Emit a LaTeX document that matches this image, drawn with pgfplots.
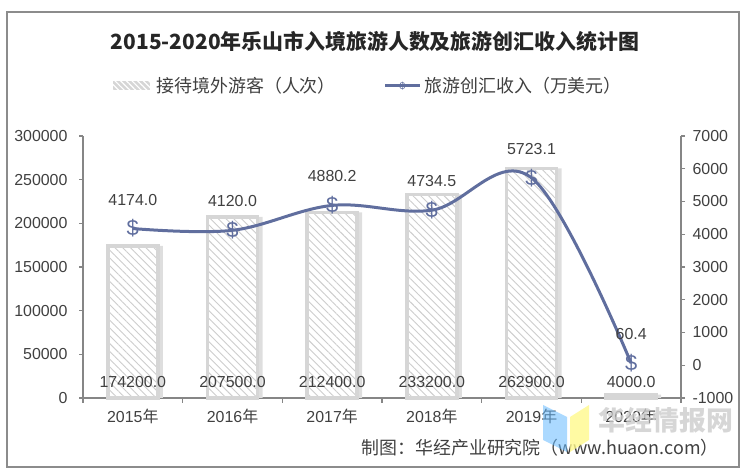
\documentclass[border=0pt]{standalone}
\usepackage{fontspec}
\setmainfont{Liberation Sans}
\newfontfamily\cjk{Noto Sans CJK SC}
\usepackage{pgfplots}
\pgfplotsset{compat=1.18}
\usetikzlibrary{patterns.meta}

\definecolor{linec}{RGB}{96,110,158}
\definecolor{axc}{RGB}{134,134,134}
\definecolor{txt}{RGB}{64,64,64}
\definecolor{barc}{RGB}{214,214,214}
\definecolor{hatch}{RGB}{205,205,205}

\newcommand\nian{{\cjk 年}}
\newcommand\numfont{\fontsize{16}{19}\selectfont}

\begin{document}
\begin{tikzpicture}[x=1bp,y=1bp]
\useasboundingbox (0,0) rectangle (750,475);
\draw[black!45, line width=1.5bp] (7,8) rectangle (739,463);

% bars: visitors (left axis)
\begin{axis}[
    at={(83bp,77bp)}, anchor=south west,
    width=598bp, height=262bp, scale only axis,
    xmin=-0.5, xmax=5.5, ymin=0, ymax=300000,
    axis y line*=left, axis x line*=bottom,
    axis line style={axc, line width=1.2bp, -},
    xtick={0,...,5},
    xticklabels={2015\nian, 2016\nian, 2017\nian, 2018\nian, 2019\nian, 2020\nian},
    minor xtick={-0.5,0.5,...,5.5},
    major x tick style={draw=none},
    minor tick length=5bp, major tick length=4bp,
    tick align=outside,
    tick style={axc, line width=1.2bp},
    ytick={0,50000,...,300000},
    scaled y ticks=false,
    /pgf/number format/fixed,
    /pgf/number format/1000 sep={},
    /pgf/number format/assume math mode=true,
    ticklabel style={font=\numfont, text=txt},
    yticklabel style={xshift=-8bp},
    xticklabel style={yshift=-4bp},
    clip=false,
]
\addplot[ybar, bar width=50bp, bar shift=5bp, fill=black!13, draw=none]
    coordinates {(0,174200) (1,207500) (2,212400) (3,233200) (4,262900) (5,4000)};
\addplot[ybar, bar width=50bp, bar shift=0bp, fill=white, draw=barc, line width=3.5bp,
    postaction={pattern color=hatch, pattern={Lines[angle=-45,distance=5.5bp,line width=0.9bp]}}]
    coordinates {(0,174200) (1,207500) (2,212400) (3,233200) (4,262900) (5,4000)};
% value labels sit near the base of each bar
\addplot[draw=none, nodes near coords={\pgfplotspointmeta}, point meta=explicit symbolic,
    every node near coord/.append style={anchor=center, font=\numfont, text=txt}]
    coordinates {(0,18300) [174200.0] (1,18300) [207500.0] (2,18300) [212400.0]
                 (3,18300) [233200.0] (4,18300) [262900.0] (5,18300) [4000.0]};
\end{axis}

% line: income (right axis)
\begin{axis}[
    at={(83bp,77bp)}, anchor=south west,
    width=598bp, height=262bp, scale only axis,
    xmin=-0.5, xmax=5.5, ymin=-1000, ymax=7000,
    axis y line*=right, axis x line=none,
    axis line style={axc, line width=1.2bp, -},
    ytick={-1000,0,...,7000},
    major tick length=4bp, tick align=outside,
    tick style={axc, line width=1.2bp},
    /pgf/number format/fixed,
    /pgf/number format/1000 sep={},
    /pgf/number format/assume math mode=true,
    ticklabel style={font=\numfont, text=txt},
    yticklabel style={xshift=4bp},
    clip=false,
]
\addplot[linec, line width=3bp, smooth, tension=0.6,
    mark=text, text mark={\$}, text mark as node=true,
    text mark style={font=\fontsize{22}{22}\selectfont, text=linec, inner sep=0pt, anchor=center},
    nodes near coords={\pgfplotspointmeta}, point meta=explicit symbolic,
    every node near coord/.append style={anchor=center, yshift=29bp, font=\numfont, text=txt}]
    coordinates {(0,4174.0) [4174.0] (1,4120.0) [4120.0] (2,4880.2) [4880.2]
                 (3,4734.5) [4734.5] (4,5723.1) [5723.1] (5,60.4) [60.4]};
\end{axis}

% title and legend
\node[font=\cjk\bfseries\fontsize{21}{24}\selectfont, text=black!85] at (375,433)
    {2015-2020年乐山市入境旅游人数及旅游创汇收入统计图};
\fill[barc] (113,385) rectangle (150,394);
\fill[pattern color=white, pattern={Lines[angle=-45,distance=4bp,line width=1.2bp]}]
    (113,385) rectangle (150,394);
\node[anchor=west, font=\cjk\fontsize{18}{20}\selectfont, text=txt] at (153,389)
    {接待境外游客（人次）};
\draw[linec, line width=3bp] (385,389) -- (420,389);
\node[text=linec, font=\fontsize{10}{10}\selectfont] at (402.5,389) {\$};
\node[anchor=west, font=\cjk\fontsize{18}{20}\selectfont, text=txt] at (421,389)
    {旅游创汇收入（万美元）};

% source and watermark
\node[anchor=west, font=\cjk\fontsize{18}{20}\selectfont, text=txt] at (358,27)
    {制图：华经产业研究院（www.huaon.com）};
\fill[blue!45!cyan!60, opacity=0.55] (543,70) -- (567,58) -- (567,23) -- (543,35) -- cycle;
\fill[yellow!45, opacity=0.8] (570,58) -- (589,70) -- (589,35) -- (570,23) -- cycle;
\node[font=\cjk\bfseries\fontsize{27}{30}\selectfont, text=black!20, opacity=0.8] at (666,55)
    {华经情报网};
\end{tikzpicture}
\end{document}
